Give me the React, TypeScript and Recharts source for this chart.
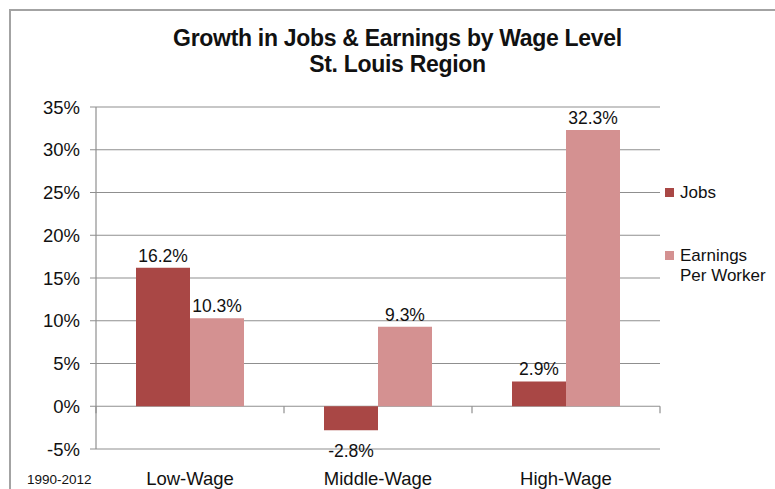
import React from "react";
import { BarChart, Bar, XAxis, YAxis, CartesianGrid, ReferenceLine, LabelList } from "recharts";

const categories = ["Low-Wage", "Middle-Wage", "High-Wage"];
const jobs = [16.2, -2.8, 2.9];
const earnings = [10.3, 9.3, 32.3];
const yTicks = [-5, 0, 5, 10, 15, 20, 25, 30, 35];
const seriesNames = ["Jobs", "Earnings Per Worker"];
const titleLines = ["Growth in Jobs & Earnings by Wage Level", "St. Louis Region"];
const periodNote = "1990-2012";

const data = categories.map((c, i) => ({ name: c, jobs: jobs[i], earnings: earnings[i] }));

const FONT = '"Liberation Sans", Arial, sans-serif';
const GRID = "#8f8f8f";
const C_JOBS = "#A94745";
const C_EARN = "#D49191";

const ValueLabel = (props: any) => {
  const { x, y, width, height, value } = props;
  const top = Math.min(y, y + height);
  const bottom = Math.max(y, y + height);
  const ty = value >= 0 ? top - 6 : bottom + 27;
  return (
    <text x={x + width / 2} y={ty} textAnchor="middle" fontSize={17.5} fill="#111" fontFamily={FONT}>
      {`${value.toFixed(1)}%`}
    </text>
  );
};

const ZeroTicks = (p: any) => {
  const { x1, y1, x2 } = p;
  const n = categories.length;
  const marks = [];
  for (let i = 0; i <= n; i++) {
    const x = x1 + ((x2 - x1) * i) / n;
    marks.push(<line key={i} x1={x} x2={x} y1={y1} y2={y1 + 7} stroke={GRID} strokeWidth={1.2} />);
  }
  return <g>{marks}</g>;
};

const LegendBlock = () => (
  <div style={{ position: "absolute", left: 665, top: 183, width: 110, fontFamily: FONT, fontSize: 17, color: "#111", lineHeight: "20px" }}>
    <div style={{ position: "absolute", left: 0, top: 0, display: "flex" }}>
      <span style={{ width: 9, height: 9, background: C_JOBS, marginTop: 5, marginRight: 6, display: "inline-block", flexShrink: 0 }} />
      <span>{seriesNames[0]}</span>
    </div>
    <div style={{ position: "absolute", left: 0, top: 63, display: "flex" }}>
      <span style={{ width: 9, height: 9, background: C_EARN, marginTop: 5, marginRight: 6, display: "inline-block", flexShrink: 0 }} />
      <span style={{ width: 100 }}>
        Earnings
        <br />
        Per Worker
      </span>
    </div>
  </div>
);

export default function App() {
  return (
    <div style={{ position: "fixed", left: 0, top: 0, width: 775, height: 489, background: "#fff", overflow: "hidden", fontFamily: FONT }}>
      <div style={{ position: "absolute", left: 9, top: 9, width: 800, height: 520, border: "2px solid #a3a3a3" }} />
      <div
        style={{
          position: "absolute",
          left: 0,
          top: 25,
          width: 795,
          textAlign: "center",
          fontWeight: "bold",
          fontSize: 23,
          lineHeight: "26px",
          color: "#111",
          letterSpacing: -0.3,
        }}
      >
        {titleLines[0]}
        <br />
        {titleLines[1]}
      </div>
      <div style={{ position: "absolute", left: 27, top: 472, fontSize: 13.5, color: "#111" }}>{periodNote}</div>
      <div style={{ position: "absolute", left: 0, top: 0 }}>
        <BarChart width={775} height={489} data={data} margin={{ top: 107, right: 115, left: 0, bottom: 0 }} barGap={0}>
          <CartesianGrid horizontal vertical={false} stroke={GRID} strokeWidth={1.2} />
          <XAxis
            dataKey="name"
            height={40}
            axisLine={false}
            tickLine={false}
            tickSize={0}
            tickMargin={23}
            tick={{ fontSize: 18.5, fill: "#111", fontFamily: FONT }}
          />
          <YAxis
            width={96}
            domain={[-5, 35]}
            ticks={yTicks}
            interval={0}
            tickFormatter={(v: number) => `${v}%`}
            axisLine={{ stroke: GRID, strokeWidth: 1.2 }}
            tickLine={{ stroke: GRID }}
            tickSize={6}
            tickMargin={10}
            tick={{ fontSize: 18.5, fill: "#111", fontFamily: FONT }}
          />
          <ReferenceLine y={0} stroke={GRID} shape={ZeroTicks} />
          <Bar dataKey="jobs" name={seriesNames[0]} fill={C_JOBS} barSize={54} isAnimationActive={false}>
            <LabelList dataKey="jobs" content={<ValueLabel />} />
          </Bar>
          <Bar dataKey="earnings" name={seriesNames[1]} fill={C_EARN} barSize={54} isAnimationActive={false}>
            <LabelList dataKey="earnings" content={<ValueLabel />} />
          </Bar>
        </BarChart>
      </div>
      <LegendBlock />
    </div>
  );
}
